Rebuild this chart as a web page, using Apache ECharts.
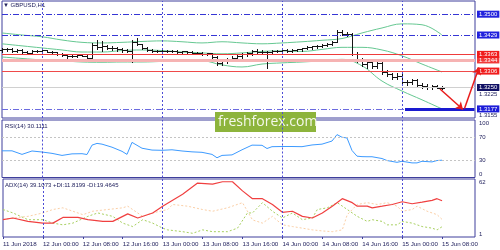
<!DOCTYPE html>
<html><head><meta charset="utf-8">
<script src="https://cdn.jsdelivr.net/npm/echarts@6/dist/echarts.min.js"></script>
<style>html,body{margin:0;padding:0;background:#fff}#c{width:500px;height:250px}</style>
</head><body><div id="c"></div>
<script>
// ---------- data ----------
const dateLabels = ['11 Jun 2018','12 Jun 00:00','12 Jun 08:00','12 Jun 16:00','13 Jun 00:00','13 Jun 08:00','13 Jun 16:00','14 Jun 00:00','14 Jun 08:00','14 Jun 16:00','15 Jun 00:00','15 Jun 08:00'];

// hourly bars, bar index = hours since 11 Jun 16:00
const opens = [1.3378,1.3380,1.3382,1.3375,1.3379,1.3371,1.3369,1.3374,1.3376,1.3377,
 1.3372,1.3370,1.3364,1.3360,1.3356,1.3359,1.3361,1.3358,1.3352,1.3395,
 1.3388,1.3392,1.3384,1.3386,1.3380,1.3378,1.3374,1.3405,1.3398,1.3384,
 1.3377,1.3374,1.3376,1.3375,1.3374,1.3376,1.3371,1.3373,1.3370,1.3367,
 1.3369,1.3365,1.3366,1.3354,1.3335,1.3340,1.3346,1.3352,1.3357,1.3364,
 1.3368,1.3374,1.3372,1.3370,1.3372,1.3375,1.3373,1.3378,1.3376,1.3379,
 1.3381,1.3384,1.3387,1.3390,1.3393,1.3396,1.3399,1.3406,1.3438,1.3432,
 1.3434,1.3365,1.3345,1.3330,1.3336,1.3325,1.3334,1.3302,1.3295,1.3286,
 1.3290,1.3268,1.3270,1.3274,1.3260,1.3256,1.3252,1.3254,1.3250];
const highs = [1.3384,1.3386,1.3385,1.3382,1.3381,1.3376,1.3378,1.3379,1.3380,1.3379,
 1.3375,1.3372,1.3368,1.3363,1.3362,1.3364,1.3364,1.3361,1.3402,1.3412,
 1.3408,1.3396,1.3390,1.3389,1.3384,1.3381,1.3412,1.3420,1.3400,1.3388,
 1.3380,1.3378,1.3379,1.3378,1.3377,1.3378,1.3375,1.3376,1.3373,1.3371,
 1.3371,1.3369,1.3367,1.3357,1.3346,1.3349,1.3356,1.3360,1.3368,1.3372,
 1.3378,1.3380,1.3379,1.3376,1.3378,1.3379,1.3380,1.3381,1.3380,1.3383,
 1.3386,1.3390,1.3393,1.3396,1.3400,1.3403,1.3410,1.3445,1.3447,1.3440,
 1.3437,1.3372,1.3352,1.3340,1.3345,1.3340,1.3338,1.3310,1.3300,1.3298,
 1.3295,1.3276,1.3280,1.3278,1.3266,1.3262,1.3258,1.3259,1.3255];
const lows = [1.3372,1.3376,1.3371,1.3372,1.3368,1.3366,1.3367,1.3371,1.3372,1.3370,
 1.3366,1.3362,1.3356,1.3352,1.3354,1.3355,1.3356,1.3340,1.3350,1.3380,
 1.3375,1.3380,1.3378,1.3376,1.3372,1.3370,1.3336,1.3395,1.3380,1.3374,
 1.3370,1.3371,1.3372,1.3371,1.3370,1.3369,1.3367,1.3368,1.3364,1.3363,
 1.3362,1.3361,1.3350,1.3326,1.3326,1.3332,1.3340,1.3344,1.3352,1.3358,
 1.3362,1.3368,1.3366,1.3316,1.3367,1.3370,1.3370,1.3371,1.3372,1.3374,
 1.3376,1.3380,1.3383,1.3385,1.3388,1.3390,1.3395,1.3404,1.3428,1.3425,
 1.3360,1.3338,1.3322,1.3318,1.3316,1.3318,1.3296,1.3288,1.3280,1.3278,
 1.3262,1.3258,1.3262,1.3255,1.3248,1.3246,1.3244,1.3247,1.3246];
const closes = [1.3380,1.3382,1.3375,1.3379,1.3371,1.3369,1.3374,1.3376,1.3377,1.3372,
 1.3370,1.3364,1.3360,1.3356,1.3359,1.3361,1.3358,1.3352,1.3395,1.3388,
 1.3392,1.3384,1.3386,1.3380,1.3378,1.3374,1.3405,1.3398,1.3384,1.3377,
 1.3374,1.3376,1.3375,1.3374,1.3376,1.3371,1.3373,1.3370,1.3367,1.3369,
 1.3365,1.3366,1.3354,1.3335,1.3340,1.3346,1.3352,1.3357,1.3364,1.3368,
 1.3374,1.3372,1.3370,1.3372,1.3375,1.3373,1.3378,1.3376,1.3379,1.3381,
 1.3384,1.3387,1.3390,1.3393,1.3396,1.3399,1.3406,1.3438,1.3432,1.3434,
 1.3365,1.3345,1.3330,1.3336,1.3325,1.3334,1.3302,1.3295,1.3286,1.3290,
 1.3268,1.3270,1.3274,1.3260,1.3256,1.3252,1.3254,1.3250,1.3250];

const bbHours  = [0,4,8,12,16,20,24,28,32,36,40,44,48,52,56,60,64,68,72,76,80,84,88];
const bbUpper  = [1.3436,1.3429,1.3423,1.3412,1.3404,1.3402,1.3404,1.3407,1.3409,1.3406,1.3402,1.3406,1.3402,1.3399,1.3402,1.3406,1.3411,1.3417,1.3436,1.3453,1.3467,1.3464,1.3429];
const bbMiddle = [1.3399,1.3392,1.3385,1.3378,1.3371,1.3371,1.3376,1.3378,1.3376,1.3371,1.3368,1.3365,1.3368,1.3373,1.3375,1.3373,1.3380,1.3387,1.3387,1.3378,1.3358,1.3330,1.3303];
const bbLower  = [1.3354,1.3349,1.3344,1.3341,1.3337,1.3336,1.3337,1.3337,1.3339,1.3341,1.3341,1.3327,1.3320,1.3330,1.3334,1.3337,1.3341,1.3346,1.3324,1.3272,1.3238,1.3208,1.3177];

const rsiHours  = [0,2,4,6,8,10,12,14,16,17,18,19,20,22,24,25,26,28,30,32,34,36,38,40,42,43,44,46,48,50,52,53,54,56,58,60,62,64,66,67,68,69,70,71,72,73,74,76,77,79,80,82,83,84,86,87,88];
const rsiValues = [46.4,46.4,40.2,46.1,44.3,42.0,38.4,41.1,41.4,40.0,56.3,59.3,58.0,52.7,45.5,40.2,61.1,50.9,47.7,47.3,48.2,46.1,44.6,43.8,40.2,34.3,38.4,39.3,48.2,56.3,56.0,50.4,53.6,53.9,53.9,53.6,56.6,58.0,63.4,74.6,70.0,68.8,47.0,37.1,36.3,36.1,36.1,33.0,29.5,26.4,28.2,25.4,25.4,28.2,27.1,29.5,30.1];
const rsiLevels = [30,70];

const adxHours  = [0,2,5,8,10,12,15,17,20,22,25,27,30,32,36,39,42,44,46,48,50,52,54,56,58,60,62,64,66,68,70,71,73,74,76,78,80,82,84,86,87,88];
const adxValues = [19.2,21.0,17.4,15.6,15.6,21.6,21.6,19.2,17.4,17.4,25.3,21.0,26.3,33.4,45.9,57.7,56.6,59.1,59.1,49.5,41.3,41.3,35.2,27.0,28.1,22.7,21.0,26.3,33.4,41.3,37.1,33.4,33.4,31.7,33.4,35.2,38.1,36.0,37.7,39.5,41.3,39.1];
const pdiHours  = [0,2,5,8,10,12,14,17,19,22,24,26,28,30,32,33,36,38,40,42,45,47,49,50,52,54,56,58,60,62,63,65,67,69,71,73,74,76,77,79,80,82,84,86,87,88];
const pdiValues = [29.9,26.3,19.2,19.2,15.6,13.8,15.6,22.7,26.3,22.7,15.6,12.0,19.2,15.6,10.3,8.5,6.6,4.9,8.5,6.6,6.6,10.3,26.3,26.3,37.1,28.1,21.0,26.3,19.2,21.0,29.9,31.7,37.1,29.9,22.7,17.4,19.2,17.4,13.8,13.8,17.4,15.6,12.0,10.3,8.5,11.8];
const mdiHours  = [0,2,5,8,10,12,13,16,18,21,24,25,28,30,33,34,37,40,42,45,48,50,52,54,56,58,60,62,64,66,68,69,71,73,75,77,79,80,82,83,85,87,88];
const mdiValues = [19.2,21.0,22.7,26.3,29.9,31.7,29.9,24.5,28.1,29.9,31.7,33.4,22.7,26.3,29.9,35.2,33.4,29.9,28.1,31.7,37.1,19.0,15.6,22.7,13.8,12.0,10.3,8.5,7.4,6.6,8.5,24.5,35.2,37.1,35.2,37.1,33.4,28.1,29.9,33.4,28.1,24.5,19.5];

const levelValues = [1.3500,1.3429,1.3344,1.3363,1.3306,1.3250,1.3177];
const levelLabels = ['1.3500','1.3429','1.3344','1.3363','1.3306','1.3250','1.3177'];
const plainPriceValues = [1.3225,1.3155];
const plainPriceLabels = ['1.3225','1.3155'];
const daySeparatorHours = [8,32,56,80];
const supportSegment = [[80.6,1.3177],[94.5,1.3177]];
const arrowPaths = [[[87.6,1.3245],[92.2,1.3175]],[[92.5,1.3178],[95.4,1.3318]]];

// ---------- styles ----------
const FONT = 'Liberation Sans';
const NAVY = '#23235f';
const BORDER = '#3f3f9c';
const SEP = '#4d4dd6';
const levelStyles = [
  {line:{color:'#3535d5',type:[6,2,1,2],width:1}, bg:'#2222dd'},
  {line:{color:'#3535d5',type:[6,2,1,2],width:1}, bg:'#2222dd'},
  {line:{color:'#f6b3b3',type:'solid',width:3}, bg:'#f03a3a'},
  {line:{color:'#ef3b3b',type:'solid',width:1}, bg:'#f01c1c'},
  {line:{color:'#ef4a4a',type:'solid',width:1}, bg:'#f01c1c'},
  {line:{color:'#d0d0d0',type:'solid',width:1}, bg:'#101064'},
  {line:{color:'#6b6be0',type:[6,2,1,2],width:1}, bg:'#1c1cd8'}
];

const ohlcData = opens.map((o,i)=>[i,o,highs[i],lows[i],closes[i]]);
const zip = (xs,ys)=>xs.map((x,i)=>[x,ys[i]]);

function renderOHLC(params, api) {
  const i = api.value(0);
  const pO = api.coord([i, api.value(1)]), pH = api.coord([i, api.value(2)]),
        pL = api.coord([i, api.value(3)]), pC = api.coord([i, api.value(4)]);
  const xi = Math.round(pH[0]);
  const x = xi + 0.5;
  const yo = Math.round(pO[1]) + 0.5, yc = Math.round(pC[1]) + 0.5;
  const st = {stroke:'#151515', lineWidth:1};
  return {type:'group', children:[
    {type:'line', shape:{x1:x, y1:Math.round(pH[1]), x2:x, y2:Math.round(pL[1])+1}, style:st},
    {type:'line', shape:{x1:xi-2, y1:yo, x2:xi, y2:yo}, style:st},
    {type:'line', shape:{x1:xi+1, y1:yc, x2:xi+3, y2:yc}, style:st}
  ]};
}

const sepMark = {symbol:'none', silent:true, precision:6, label:{show:false},
  lineStyle:{color:SEP, type:[2,2], width:1},
  data: daySeparatorHours.map(h=>({xAxis:h}))};

function xAxisFor(gi, showLabels) {
  return {type:'value', gridIndex:gi, min:0, max:94.6, interval:8,
    axisLine:{show:false}, splitLine:{show:false},
    axisTick:{show:showLabels, length:2, lineStyle:{color:BORDER}},
    axisLabel:{show:showLabels, fontSize:6.2, fontFamily:FONT, color:NAVY, align:'left', margin:4,
      showMaxLabel:false, formatter: v => (v % 8 === 0 && dateLabels[v/8]) ? dateLabels[v/8] : ''}};
}
const txt = (size)=>({fontSize:size, fontFamily:FONT, color:NAVY, fontWeight:'normal'});

const levelMarks = levelValues.map((v,i)=>({
  yAxis:v, lineStyle:levelStyles[i].line,
  label:{show:true, position:'end', distance:2, formatter:levelLabels[i], color:'#ffffff', opacity:1,
    backgroundColor:levelStyles[i].bg, padding:[1,2,0,2], fontSize:6, fontFamily:FONT}
})).concat(plainPriceValues.map((v,i)=>({
  yAxis:v, lineStyle:{color:'rgba(0,0,0,0)', width:1},
  label:{show:true, position:'end', distance:4, formatter:plainPriceLabels[i], color:NAVY, fontSize:6, fontFamily:FONT}
})));

const option = {
  animation:false,
  backgroundColor:'#fff',
  title:[
    {text:'▼ GBPUSD,H1', left:3, top:2, padding:0, textStyle:txt(6)},
    {text:'RSI(14) 30.1111', left:5, top:123, padding:0, textStyle:txt(6)},
    {text:'ADX(14) 39.1073 +DI:11.8199 -DI:19.4645', left:5, top:182, padding:0, textStyle:txt(6)}
  ],
  grid:[
    {left:2, top:1, width:473, height:117, show:true, borderColor:BORDER, borderWidth:1},
    {left:2, top:120, width:473, height:57.5, show:true, borderColor:BORDER, borderWidth:1},
    {left:2, top:179, width:473, height:58, show:true, borderColor:BORDER, borderWidth:1}
  ],
  xAxis:[xAxisFor(0,false), xAxisFor(1,false), xAxisFor(2,true)],
  yAxis:[
    {type:'value', gridIndex:0, min:1.3146, max:1.3545, position:'right',
      axisLine:{show:false}, axisTick:{show:false}, splitLine:{show:false}, axisLabel:{show:false}},
    {type:'value', gridIndex:1, min:0, max:100, interval:10, position:'right',
      axisLine:{show:false}, axisTick:{show:false}, splitLine:{show:false},
      axisLabel:{fontSize:6, fontFamily:FONT, color:NAVY, margin:4,
        verticalAlignMinLabel:'bottom', verticalAlignMaxLabel:'top',
        formatter: v => (v===0||v===30||v===70||v===100) ? String(v) : ''}},
    {type:'value', gridIndex:2, min:1, max:62, interval:61, position:'right',
      axisLine:{show:false}, axisTick:{show:false}, splitLine:{show:false},
      axisLabel:{fontSize:6, fontFamily:FONT, color:NAVY, margin:4,
        verticalAlignMinLabel:'bottom', verticalAlignMaxLabel:'top',
        formatter: v => (v===1||v===62) ? String(v) : ''}}
  ],
  series:[
    {type:'line', xAxisIndex:0, yAxisIndex:0, data:[], z:1, markLine:sepMark},
    {type:'line', name:'upper', xAxisIndex:0, yAxisIndex:0, data:zip(bbHours,bbUpper), smooth:0.4, symbol:'none', lineStyle:{color:'#66c892', width:1}, z:2},
    {type:'line', name:'middle', xAxisIndex:0, yAxisIndex:0, data:zip(bbHours,bbMiddle), smooth:0.4, symbol:'none', lineStyle:{color:'#66c892', width:1}, z:2},
    {type:'line', name:'lower', xAxisIndex:0, yAxisIndex:0, data:zip(bbHours,bbLower), smooth:0.4, symbol:'none', lineStyle:{color:'#66c892', width:1}, z:2},
    {type:'custom', xAxisIndex:0, yAxisIndex:0, data:ohlcData, renderItem:renderOHLC, encode:{x:0, y:[1,2,3,4]}, z:4},
    {type:'lines', coordinateSystem:'cartesian2d', xAxisIndex:0, yAxisIndex:0, clip:false, z:6,
      symbol:['none','arrow'], symbolSize:7,
      lineStyle:{color:'#e81c1c', width:1.5, opacity:1, curveness:0},
      data: arrowPaths.map(p=>({coords:p}))},
    {type:'line', xAxisIndex:0, yAxisIndex:0, data:[], z:8,
      markLine:{symbol:'none', silent:true, precision:6, data: levelMarks.concat([
        [{coord:supportSegment[0], lineStyle:{color:'#1a1ad0', width:3, type:'solid'}, label:{show:false}},
         {coord:supportSegment[1]}]
      ])}},
    {type:'line', xAxisIndex:1, yAxisIndex:1, data:zip(rsiHours,rsiValues), symbol:'none',
      lineStyle:{color:'#3d9bff', width:1}, z:3,
      markLine:{symbol:'none', silent:true, precision:6, label:{show:false},
        data: rsiLevels.map(v=>({yAxis:v, lineStyle:{color:'#c4c4c4', type:[2,2], width:1}}))
          .concat(daySeparatorHours.map(h=>({xAxis:h, lineStyle:{color:SEP, type:[2,2], width:1}})))}},
    {type:'line', xAxisIndex:2, yAxisIndex:2, data:zip(pdiHours,pdiValues), symbol:'none',
      lineStyle:{color:'#a8d060', width:1, type:[2,2]}, z:2, markLine:sepMark},
    {type:'line', xAxisIndex:2, yAxisIndex:2, data:zip(mdiHours,mdiValues), symbol:'none',
      lineStyle:{color:'#fbcfa6', width:1, type:[2,2]}, z:2},
    {type:'line', xAxisIndex:2, yAxisIndex:2, data:zip(adxHours,adxValues), symbol:'none',
      lineStyle:{color:'#f04040', width:1.2}, z:3}
  ],
  graphic:[
    {type:'group', left:215, top:112, z:100, children:[
      {type:'rect', shape:{x:0, y:0, width:101, height:20}, style:{fill:'#8db43c'}},
      {type:'text', x:3, y:10, style:{text:'freshforex.com', fill:'#f4f8ea', fontSize:14, fontFamily:'Open Sans', verticalAlign:'middle'}}
    ]}
  ]
};
const chart = echarts.init(document.getElementById('c'));
chart.setOption(option);
</script>
</body></html>
